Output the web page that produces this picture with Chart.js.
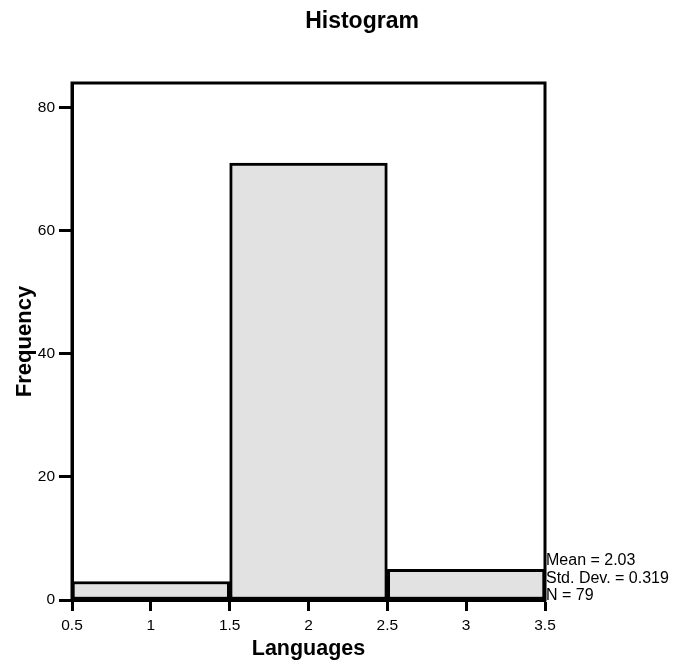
<!DOCTYPE html>
<html>
<head>
<meta charset="utf-8">
<title>Histogram</title>
<script src="https://cdn.jsdelivr.net/npm/chart.js@4/dist/chart.umd.min.js"></script>
<style>
  html, body { margin: 0; padding: 0; background: #fff; }
  canvas { display: block; }
</style>
</head>
<body>
<canvas id="hist" width="674" height="670"></canvas>
<script>
// Bin centres (languages spoken) and their frequencies
const binCenters = [1, 2, 3];
const frequencies = [3, 71, 5];

// Axis tick positions
const xTicks = [0.5, 1, 1.5, 2, 2.5, 3, 3.5];
const yTicks = [0, 20, 40, 60, 80];

// Summary statistics computed from the binned counts
const n = frequencies.reduce((a, b) => a + b, 0);
const mean = binCenters.reduce((s, x, i) => s + x * frequencies[i], 0) / n;
const variance = binCenters.reduce((s, x, i) => s + frequencies[i] * (x - mean) ** 2, 0) / (n - 1);
const sd = Math.sqrt(variance);
const statLines = [
  'Mean = ' + mean.toFixed(2),
  'Std. Dev. = ' + sd.toFixed(3),
  'N = ' + n
];

const FONT = '"Liberation Sans", Arial, Helvetica, sans-serif';

const noScalePadding = (scale) => {
  scale.paddingTop = 0; scale.paddingBottom = 0;
  scale.paddingLeft = 0; scale.paddingRight = 0;
};

// Frame, heading and statistics block
const decorations = {
  id: 'decorations',
  afterDraw(chart) {
    const { ctx, chartArea: a } = chart;
    ctx.save();
    ctx.strokeStyle = '#000';
    ctx.lineWidth = 3;
    ctx.strokeRect(a.left, a.top, a.right - a.left, a.bottom - a.top);

    ctx.fillStyle = '#000';
    ctx.font = 'bold 23px ' + FONT;
    ctx.textAlign = 'center';
    ctx.textBaseline = 'middle';
    ctx.fillText('Histogram', 362, 22);

    ctx.font = '16px ' + FONT;
    ctx.textAlign = 'left';
    statLines.forEach((t, i) => ctx.fillText(t, a.right + 1, 561 + i * 17.5));
    ctx.restore();
  }
};

new Chart(document.getElementById('hist'), {
  type: 'bar',
  data: {
    datasets: [{
      data: binCenters.map((x, i) => ({ x: x, y: frequencies[i] })),
      backgroundColor: '#e2e2e2',
      borderColor: '#000',
      borderWidth: 3,
      borderSkipped: false,
      barThickness: 'flex',
      categoryPercentage: 1,
      barPercentage: 1
    }]
  },
  options: {
    responsive: false,
    animation: false,
    devicePixelRatio: 1,
    layout: { padding: { left: 12, top: 83, right: 129, bottom: 8 } },
    plugins: {
      legend: { display: false },
      tooltip: { enabled: false },
      title: { display: false }
    },
    scales: {
      x: {
        type: 'linear',
        min: 0.5,
        max: 3.5,
        offset: false,
        afterBuildTicks: (s) => { s.ticks = xTicks.map(v => ({ value: v })); },
        afterFit: (s) => { s.height = 62; noScalePadding(s); },
        ticks: {
          color: '#000',
          padding: 5,
          font: { family: FONT, size: 15.5 },
          callback: (v) => String(v)
        },
        grid: {
          drawOnChartArea: false,
          drawTicks: true,
          tickLength: 11,
          tickWidth: 3,
          tickColor: '#000',
          offset: false
        },
        border: { display: true, color: '#000', width: 3 },
        title: {
          display: true,
          text: 'Languages',
          color: '#000',
          padding: 0,
          font: { family: FONT, size: 21.5, weight: 'bold' }
        }
      },
      y: {
        min: 0,
        max: 84,
        afterBuildTicks: (s) => { s.ticks = yTicks.map(v => ({ value: v })); },
        afterFit: (s) => { s.width = 60; noScalePadding(s); },
        ticks: {
          color: '#000',
          padding: 4,
          font: { family: FONT, size: 15.5 }
        },
        grid: {
          drawOnChartArea: false,
          drawTicks: true,
          tickLength: 13,
          tickWidth: 3,
          tickColor: '#000'
        },
        border: { display: true, color: '#000', width: 3 },
        title: {
          display: true,
          text: 'Frequency',
          color: '#000',
          padding: 0,
          font: { family: FONT, size: 22, weight: 'bold' }
        }
      }
    }
  },
  plugins: [decorations]
});
</script>
</body>
</html>
